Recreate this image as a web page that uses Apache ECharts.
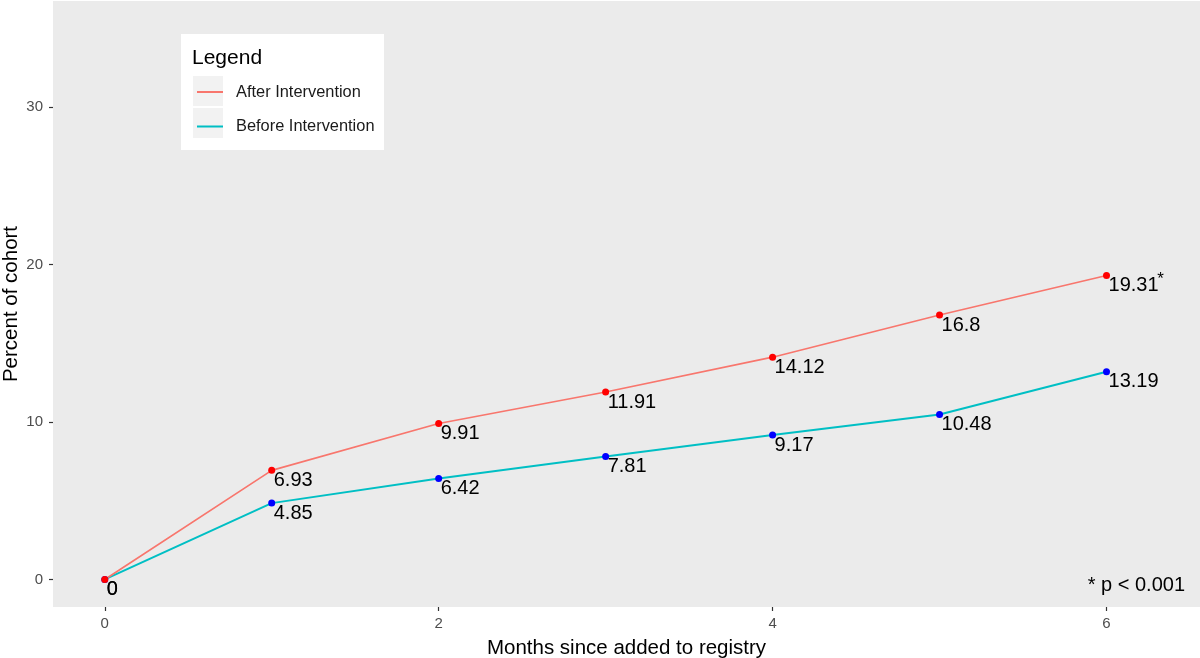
<!DOCTYPE html>
<html>
<head>
<meta charset="utf-8">
<script src="https://cdn.jsdelivr.net/npm/echarts@6/dist/echarts.min.js"></script>
<style>
html,body{margin:0;padding:0;background:#fff;}
#c{width:1200px;height:658px;}
</style>
</head>
<body>
<div id="c"></div>
<script>
const months = [0, 1, 2, 3, 4, 5, 6];
const afterValues = [0, 6.93, 9.91, 11.91, 14.12, 16.8, 19.31];
const beforeValues = [0, 4.85, 6.42, 7.81, 9.17, 10.48, 13.19];
const xTicks = [0, 2, 4, 6];
const yTicks = [0, 10, 20, 30];
const seriesNames = ['After Intervention', 'Before Intervention'];

const FONT = 'Liberation Sans, Arial, sans-serif';
const chart = echarts.init(document.getElementById('c'));

const toPairs = vals => months.map((m, i) => [m, vals[i]]);
const lastIdx = months.length - 1;

const labelCfg = {
  show: true,
  position: [5.5, 3.5],
  align: 'left',
  verticalAlign: 'top',
  fontFamily: FONT,
  fontSize: 20,
  color: '#000',
  opacity: 1,
  formatter: p => String(p.value[1])
};

chart.setOption({
  animation: false,
  backgroundColor: '#fff',
  grid: {
    left: 53, right: 0, top: 1, bottom: 51,
    outerBoundsMode: 'none',
    containLabel: false,
    show: true, backgroundColor: '#EBEBEB', borderWidth: 0
  },
  xAxis: {
    type: 'value',
    min: -0.31, max: 6.56,
    name: 'Months since added to registry',
    nameLocation: 'middle',
    nameGap: 31,
    nameTextStyle: { fontFamily: FONT, fontSize: 20.5, color: '#000' },
    axisLine: { show: false, onZero: false },
    splitLine: { show: false },
    axisTick: { show: true, length: 4, lineStyle: { color: '#333', width: 1.2 }, customValues: xTicks },
    axisLabel: { fontFamily: FONT, fontSize: 15, color: '#4D4D4D', margin: 9, customValues: xTicks }
  },
  yAxis: {
    type: 'value',
    min: -1.75, max: 36.75,
    name: 'Percent of cohort',
    nameLocation: 'middle',
    nameGap: 31,
    nameRotate: 90,
    nameMoveOverlap: false,
    nameTextStyle: { fontFamily: FONT, fontSize: 20.5, color: '#000' },
    axisLine: { show: false, onZero: false },
    splitLine: { show: false },
    axisTick: { show: true, length: 4, lineStyle: { color: '#333', width: 1.2 }, customValues: yTicks },
    axisLabel: { fontFamily: FONT, fontSize: 15, color: '#4D4D4D', margin: 10, customValues: yTicks }
  },
  legend: {
    data: seriesNames,
    orient: 'vertical',
    left: 196,
    top: 84,
    padding: 0,
    itemWidth: 26,
    itemHeight: 14,
    itemGap: 18.5,
    z: 20,
    itemStyle: { opacity: 0 },
    textStyle: { fontFamily: FONT, fontSize: 16.4, color: '#1A1A1A', padding: [0, 0, 0, 8] },
    backgroundColor: 'transparent'
  },
  graphic: [
    { type: 'rect', z: 5, shape: { x: 181, y: 34, width: 203, height: 116 }, style: { fill: '#fff' } },
    { type: 'rect', z: 6, shape: { x: 193, y: 76, width: 30, height: 30 }, style: { fill: '#F2F2F2' } },
    { type: 'rect', z: 6, shape: { x: 193, y: 108, width: 30, height: 30 }, style: { fill: '#F2F2F2' } },
    { type: 'text', z: 7, left: 192, top: 48, style: { text: 'Legend', fontFamily: FONT, fontSize: 21, fill: '#000' } },
    { type: 'text', z: 7, right: 15, top: 575, style: { text: '* p < 0.001', fontFamily: FONT, fontSize: 20, fill: '#000' } }
  ],
  series: [
    {
      name: seriesNames[1], type: 'line', data: toPairs(beforeValues),
      symbol: 'none', color: '#00BFC4',
      lineStyle: { color: '#00BFC4', width: 2 }, z: 2
    },
    {
      name: seriesNames[0], type: 'line', data: toPairs(afterValues),
      symbol: 'none', color: '#F8766D',
      lineStyle: { color: '#F8766D', width: 1.7 }, z: 2,
      markPoint: {
        symbol: 'circle', symbolSize: 0, silent: true,
        data: [{ coord: [months[lastIdx], afterValues[lastIdx]] }],
        label: {
          show: true, formatter: '*', position: 'inside', offset: [54, 4],
          fontFamily: FONT, fontSize: 17, color: '#000'
        }
      }
    },
    {
      name: 'Before points', type: 'scatter', data: toPairs(beforeValues),
      symbolSize: 7, itemStyle: { color: '#0000FF', opacity: 1 }, z: 3,
      label: labelCfg
    },
    {
      name: 'After points', type: 'scatter', data: toPairs(afterValues),
      symbolSize: 7, itemStyle: { color: '#FF0000', opacity: 1 }, z: 4,
      label: labelCfg
    }
  ]
});
</script>
</body>
</html>
